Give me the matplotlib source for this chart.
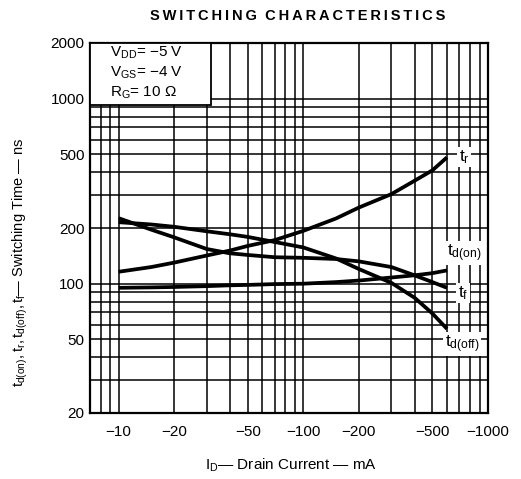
import matplotlib
matplotlib.use("Agg")
import matplotlib.pyplot as plt
from matplotlib.ticker import FixedLocator, NullFormatter
from matplotlib.patches import Rectangle

plt.rcParams['font.family'] = ['Liberation Sans', 'DejaVu Sans']
plt.rcParams['mathtext.fontset'] = 'custom'
plt.rcParams['mathtext.rm'] = 'Liberation Sans'
plt.rcParams['mathtext.it'] = 'Liberation Sans'

# Drain current (mA)
current = [-10, -15, -20, -30, -40, -50, -70, -100, -150, -200, -300, -400, -500, -600]
t_r = [116, 123, 130, 142, 151, 160, 172, 193, 225, 258, 305, 360, 410, 482]
t_d_on = [95, 95.5, 96, 97, 98, 98.5, 99.5, 100, 102, 104, 108, 111, 114, 118]
t_f = [226, 196, 178, 154, 146, 143, 139, 138, 136, 132, 123, 111, 102, 95]
t_d_off = [215, 209, 203, 192, 185, 179, 168, 157, 137, 120, 101, 84, 69, 57]

x_ticks = [-10, -20, -50, -100, -200, -500, -1000]
x_tick_labels = ["\u221210", "\u221220", "\u221250", "\u2212100", "\u2212200", "\u2212500", "\u22121000"]
x_minor = [-7, -8, -9, -30, -40, -60, -70, -80, -90, -300, -400, -600, -700, -800, -900]
y_ticks = [20, 50, 100, 200, 500, 1000, 2000]
y_tick_labels = ["20", "50", "100", "200", "500", "1000", "2000"]
y_minor = [30, 40, 60, 70, 80, 90, 300, 400, 600, 700, 800, 900]

W, H = 521, 479
fig = plt.figure(figsize=(W / 100, H / 100), dpi=100)
L, R, T, B = 90, 488, 43, 413
ax = fig.add_axes([L / W, 1 - B / H, (R - L) / W, (B - T) / H])
ax.set_xscale('log')
ax.set_yscale('log')
ax.set_xlim(7, 1000)
ax.set_ylim(20, 2000)

absI = [-c for c in current]
ax.xaxis.set_major_locator(FixedLocator([-v for v in x_ticks]))
ax.xaxis.set_minor_locator(FixedLocator([-v for v in x_minor]))
ax.set_xticklabels(x_tick_labels)
ax.xaxis.set_minor_formatter(NullFormatter())
ax.yaxis.set_major_locator(FixedLocator(y_ticks))
ax.yaxis.set_minor_locator(FixedLocator(y_minor))
ax.set_yticklabels(y_tick_labels)
ax.yaxis.set_minor_formatter(NullFormatter())
ax.tick_params(which='both', length=0, labelsize=11, colors='black')
ax.tick_params(axis='x', pad=9)
ax.tick_params(axis='y', pad=4)
ax.grid(True, which='both', color='black', linewidth=1.1)
for s in ax.spines.values():
    s.set_linewidth(1.6)

lw = 2.7
for ys in (t_r, t_d_on, t_f, t_d_off):
    ax.plot(absI, ys, color='black', linewidth=lw, solid_capstyle='butt',
            solid_joinstyle='round', zorder=3)

bbox = dict(facecolor='white', edgecolor='none', pad=1.0)
def lab(px, py, s):
    fig.text(px / W, 1 - py / H, s, ha='center', va='center', fontsize=12.5,
             bbox=bbox, zorder=5)

lab(464, 157, "$\\mathregular{t_r}$")
lab(464, 253, "$\\mathregular{t_{d(on)}}$")
lab(463, 293, "$\\mathregular{t_f}$")
lab(462, 344, "$\\mathregular{t_{d(off)}}$")

# Condition box
box = Rectangle((L / W, 1 - 105 / H), (211 - L) / W, (105 - T) / H,
                transform=fig.transFigure, facecolor='white', edgecolor='black',
                linewidth=1.3, zorder=4)
fig.patches.append(box)
fs_box = 11
fig.text(110 / W, 1 - 53 / H, "$\\mathregular{V_{DD}}$= \u22125 V", fontsize=fs_box, va='center', zorder=6)
fig.text(110 / W, 1 - 73 / H, "$\\mathregular{V_{GS}}$= \u22124 V", fontsize=fs_box, va='center', zorder=6)
fig.text(110 / W, 1 - 93 / H, "$\\mathregular{R_G}$= 10 \u03a9", fontsize=fs_box, va='center', zorder=6)

title = "SWITCHING CHARACTERISTICS"
spaced = "\u2009".join(title).replace("\u2009 \u2009", "  ")
fig.text(298 / W, 1 - 16 / H, spaced, ha='center', va='center',
         fontsize=10.5, fontweight='bold')
fig.text(291 / W, 1 - 465 / H, "$\\mathregular{I_D}$\u2014 Drain Current \u2014 mA",
         ha='center', va='center', fontsize=11)
fig.text(20 / W, 1 - 262 / H,
         "$\\mathregular{t_{d(on)}, t_r, t_{d(off)}, t_f}$\u2014 Switching Time \u2014 ns",
         ha='center', va='center', rotation=90, fontsize=10.5)

fig.savefig("out.png", dpi=100)
